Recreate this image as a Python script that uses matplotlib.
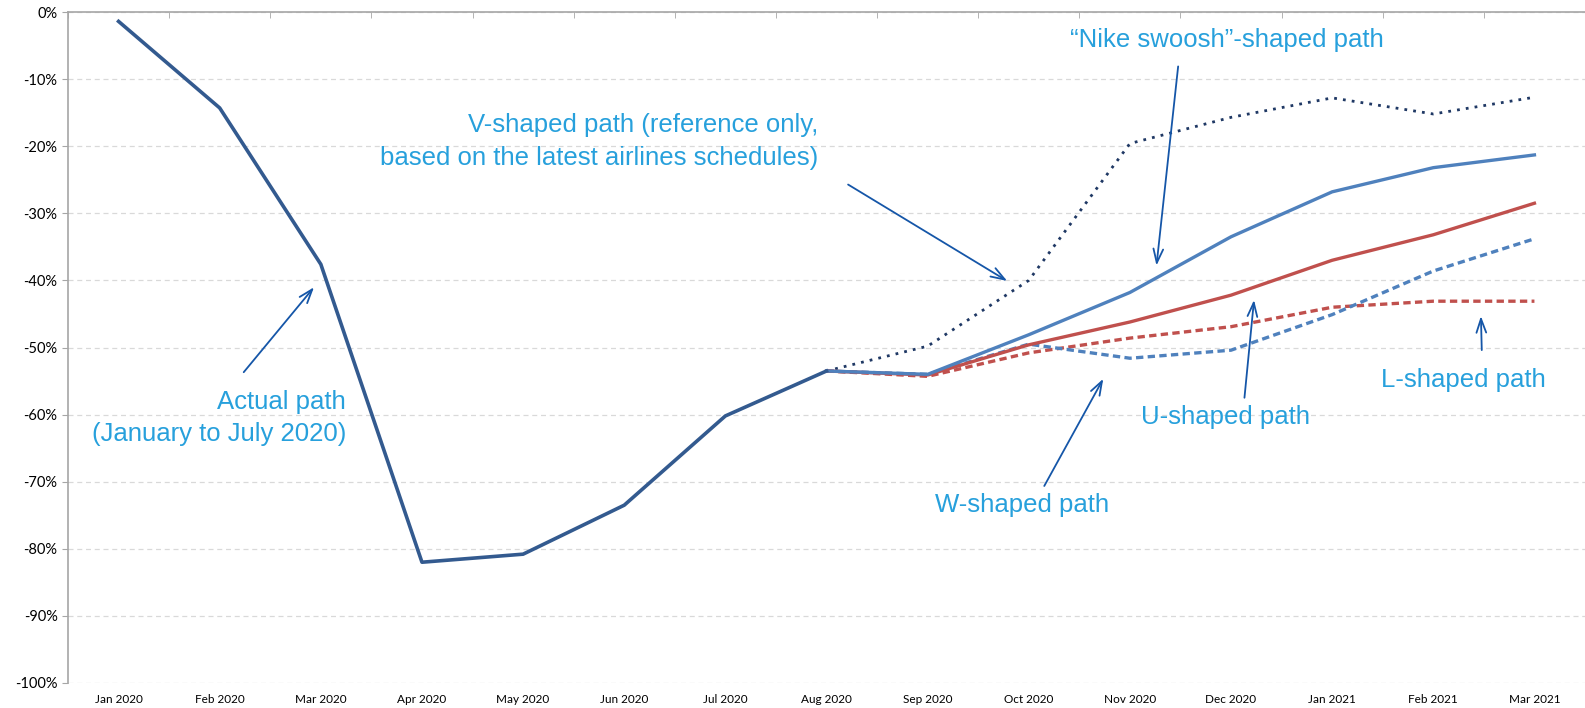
import matplotlib
matplotlib.use("Agg")
import matplotlib.pyplot as plt
from matplotlib.ticker import FuncFormatter, FixedLocator

# months on the x axis
months = ["Jan 2020", "Feb 2020", "Mar 2020", "Apr 2020", "May 2020", "Jun 2020",
          "Jul 2020", "Aug 2020", "Sep 2020", "Oct 2020", "Nov 2020", "Dec 2020",
          "Jan 2021", "Feb 2021", "Mar 2021"]

# % change in seat capacity
actual = [-1.4, -14.3, -37.6, -82.0, -80.8, -73.5, -60.2, -53.5]
v_shape = [-53.5, -49.8, -40.0, -19.6, -15.7, -12.8, -15.2, -12.7]
nike = [-53.5, -54.0, -48.1, -41.8, -33.5, -26.8, -23.2, -21.3]
u_shape = [-53.5, -54.1, -49.6, -46.2, -42.2, -37.0, -33.2, -28.5]
w_shape = [-53.5, -54.0, -49.5, -51.6, -50.4, -45.1, -38.6, -33.8]
l_shape = [-53.5, -54.3, -50.8, -48.6, -46.9, -44.0, -43.1, -43.1]

x_act = list(range(len(actual)))
x_fc = list(range(7, 15))

fig = plt.figure(figsize=(15.85, 7.08), dpi=100)
ax = fig.add_axes([68 / 1585, 1 - 683 / 708, 1 - 68 / 1585, 671 / 708])

ax.plot(x_fc, v_shape, color="#1F3864", lw=2.0, ls=(0, (1, 2.2)))
ax.plot(x_fc, l_shape, color="#C0504D", lw=2.4, ls=(0, (2.2, 1.3)))
ax.plot(x_fc, w_shape, color="#4F81BD", lw=2.4, ls=(0, (2.2, 1.3)))
ax.plot(x_fc, u_shape, color="#C0504D", lw=2.4)
ax.plot(x_fc, nike, color="#4F81BD", lw=2.4)
ax.plot(x_act, actual, color="#335A8F", lw=2.6)

ax.set_xlim(-0.5, 14.5)
ax.set_ylim(-100, 0)

ax.set_xticks(range(len(months)))
ax.set_xticklabels(months, fontsize=8.5, family="Lato")
ax.tick_params(axis="x", which="major", length=0, pad=8)
ax.xaxis.set_minor_locator(FixedLocator([i - 0.5 for i in range(16)]))
ax.tick_params(axis="x", which="minor", top=True, bottom=False, direction="in",
               length=4, color="#A6A6A6")

ax.set_yticks(range(-100, 1, 10))
ax.yaxis.set_major_formatter(FuncFormatter(lambda v, p: f"{int(round(v))}%"))
ax.tick_params(axis="y", length=4, color="#A6A6A6", labelsize=10.5)
for lab in ax.get_yticklabels():
    lab.set_family("Lato")

ax.grid(axis="y", ls=(0, (4, 3)), color="#D9D9D9", lw=0.9)
ax.set_axisbelow(True)
for s in ["right", "bottom"]:
    ax.spines[s].set_visible(False)
ax.spines["left"].set_color("#A6A6A6")
ax.spines["top"].set_color("#A6A6A6")
ax.spines["left"].set_linewidth(1.2)
ax.spines["top"].set_linewidth(1.2)

tc = "#27A0DC"
ac = "#1556A8"
fs = 18.5
arrow = dict(arrowstyle="->,head_length=1.0,head_width=0.35", color=ac, lw=1.3)

ax.text(2.25, -60.5, "Actual path\n(January to July 2020)", color=tc, fontsize=fs,
        family="Liberation Sans", ha="right", va="center", multialignment="right",
        linespacing=1.45)
ax.annotate("", xy=(1.95, -40.7), xytext=(1.22, -54.0), arrowprops=arrow)

ax.text(6.92, -19.3, "V-shaped path (reference only,\nbased on the latest airlines schedules)",
        color=tc, fontsize=fs, family="Liberation Sans", ha="right", va="center",
        multialignment="right", linespacing=1.5)
ax.annotate("", xy=(8.81, -40.3), xytext=(7.19, -25.5), arrowprops=arrow)

ax.text(10.96, -4.2, "\u201cNike swoosh\u201d-shaped path", color=tc, fontsize=fs,
        family="Liberation Sans", ha="center", va="center")
ax.annotate("", xy=(10.26, -38.2), xytext=(10.48, -7.7), arrowprops=arrow)

ax.text(8.93, -73.5, "W-shaped path", color=tc, fontsize=fs,
        family="Liberation Sans", ha="center", va="center")
ax.annotate("", xy=(9.75, -54.3), xytext=(9.14, -71.0), arrowprops=arrow)

ax.text(10.95, -60.3, "U-shaped path", color=tc, fontsize=fs,
        family="Liberation Sans", ha="center", va="center")
ax.annotate("", xy=(11.23, -42.5), xytext=(11.13, -57.9), arrowprops=arrow)

ax.text(13.30, -54.9, "L-shaped path", color=tc, fontsize=fs,
        family="Liberation Sans", ha="center", va="center")
ax.annotate("", xy=(13.47, -44.9), xytext=(13.48, -50.8), arrowprops=arrow)

fig.savefig("out.png", dpi=100)
